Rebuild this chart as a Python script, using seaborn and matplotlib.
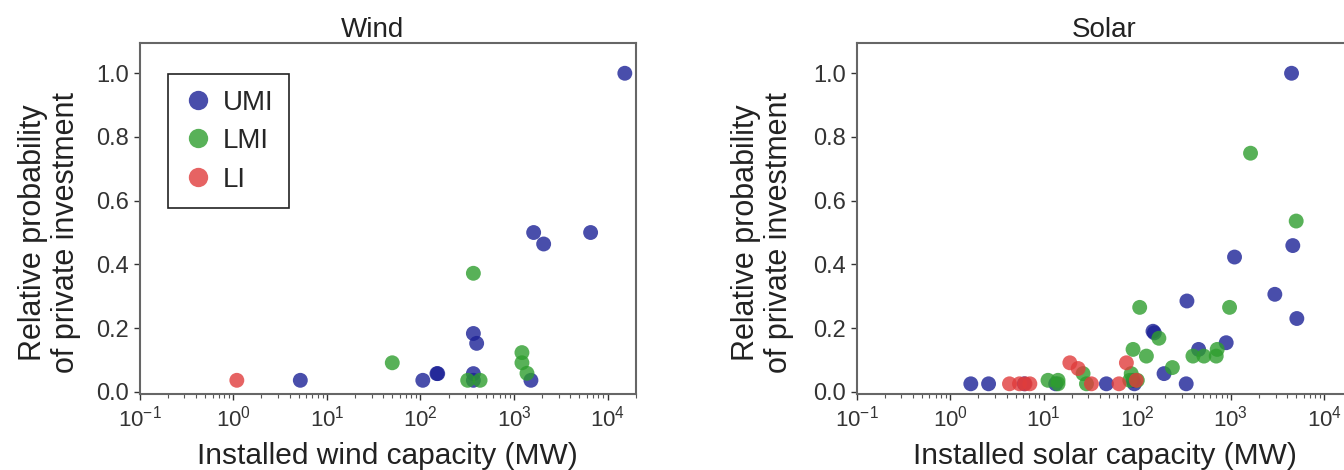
import numpy as np
import pandas as pd
import seaborn as sns
import matplotlib.pyplot as plt

# WIND DATA (capacity in MW, relative probability)
wind_umi_cap = [5.2, 106, 153, 150, 368, 368, 368, 399, 1517, 1622, 2075, 6590, 15300]
wind_umi_prob = [0.036, 0.036, 0.057, 0.057, 0.057, 0.036, 0.183, 0.152, 0.036, 0.50, 0.464, 0.50, 1.0]
wind_lmi_cap = [50, 320, 434, 368, 1216, 1216, 1377]
wind_lmi_prob = [0.091, 0.036, 0.036, 0.372, 0.123, 0.091, 0.058]
wind_li_cap = [1.09]
wind_li_prob = [0.036]

# SOLAR DATA
solar_umi_cap = [1.66, 2.57, 6.2, 13.4, 46.7, 90, 93, 147, 152, 193, 333, 339, 452,
                 891, 1094, 2950, 4450, 4590, 5070]
solar_umi_prob = [0.025, 0.025, 0.025, 0.025, 0.025, 0.036, 0.025, 0.19, 0.185, 0.057,
                  0.025, 0.285, 0.133, 0.154, 0.423, 0.306, 1.0, 0.459, 0.230]
solar_lmi_cap = [11.1, 14.2, 14.2, 26.3, 28.6, 86, 83, 100, 90, 106, 125, 170, 237,
                 393, 515, 697, 714, 968, 1622, 4990]
solar_lmi_prob = [0.036, 0.036, 0.025, 0.057, 0.025, 0.057, 0.036, 0.036, 0.133, 0.265,
                  0.112, 0.168, 0.076, 0.112, 0.112, 0.112, 0.133, 0.265, 0.749, 0.536]
solar_li_cap = [4.3, 5.5, 6.3, 7.1, 19, 23.3, 32.3, 63.7, 76.4, 97.5]
solar_li_prob = [0.025, 0.025, 0.025, 0.025, 0.091, 0.073, 0.025, 0.025, 0.091, 0.036]

groups = ["UMI", "LMI", "LI"]
colors = {"UMI": "#1c2296", "LMI": "#2e9e2e", "LI": "#e03c3c"}


def make_df(caps, probs):
    rows = []
    for g, c, p in zip(groups, caps, probs):
        rows.append(pd.DataFrame({"capacity": c, "prob": p, "group": g}))
    return pd.concat(rows, ignore_index=True)


wind = make_df([wind_umi_cap, wind_lmi_cap, wind_li_cap],
               [wind_umi_prob, wind_lmi_prob, wind_li_prob])
solar = make_df([solar_umi_cap, solar_lmi_cap, solar_li_cap],
                [solar_umi_prob, solar_lmi_prob, solar_li_prob])

sns.set_style("ticks")
plt.rcParams["font.family"] = ["Liberation Sans", "DejaVu Sans"]
plt.rcParams["mathtext.fontset"] = "custom"
plt.rcParams["mathtext.rm"] = "Liberation Sans"

fig = plt.figure(figsize=(13.44, 4.70), dpi=100)
ax1 = fig.add_axes([0.104, 0.1617, 0.369, 0.7468])
ax2 = fig.add_axes([0.6374, 0.1617, 0.369, 0.7468])

panels = [(ax1, wind, "Wind", "Installed wind capacity (MW)", 0.47, -0.119),
          (ax2, solar, "Solar", "Installed solar capacity (MW)", 0.5, -0.127)]

for ax, df, title, xlab, tx, ly in panels:
    sns.scatterplot(data=df, x="capacity", y="prob", hue="group",
                    hue_order=groups, palette=colors, s=115, alpha=0.8,
                    edgecolor="none", ax=ax, legend=(ax is ax1))
    ax.set_xscale("log")
    ax.set_xlim(0.1, 2e4)
    ax.set_ylim(-0.007, 1.095)
    ax.set_yticks([0.0, 0.2, 0.4, 0.6, 0.8, 1.0])
    ax.set_title(title, fontsize=20, color="#222222", pad=3, x=tx)
    ax.set_xlabel(xlab, fontsize=21.5, color="#222222", labelpad=8)
    ax.set_ylabel("Relative probability\nof private investment", fontsize=22,
                  color="#222222", linespacing=1.1)
    ax.yaxis.set_label_coords(ly, 0.459)
    ax.tick_params(axis="x", which="major", labelsize=16, colors="#333333",
                   direction="out", length=4, width=1, pad=4)
    ax.tick_params(axis="y", which="major", labelsize=17, colors="#333333",
                   direction="out", length=4, width=1)
    ax.tick_params(axis="x", which="minor", direction="out", length=3,
                   width=0.8, colors="#555555")
    for sp in ax.spines.values():
        sp.set_color("#666666")
        sp.set_linewidth(1.5)

leg = ax1.legend(loc="upper left", bbox_to_anchor=(0.056, 0.911),
                 borderaxespad=0, fontsize=20, frameon=True, fancybox=False,
                 handletextpad=0.35, handlelength=1.1, markerscale=1.3,
                 borderpad=0.55, labelspacing=0.45)
leg.get_frame().set_edgecolor("#222222")
leg.get_frame().set_linewidth(1.2)
leg.get_frame().set_alpha(1)

fig.savefig("out.png", dpi=100)
